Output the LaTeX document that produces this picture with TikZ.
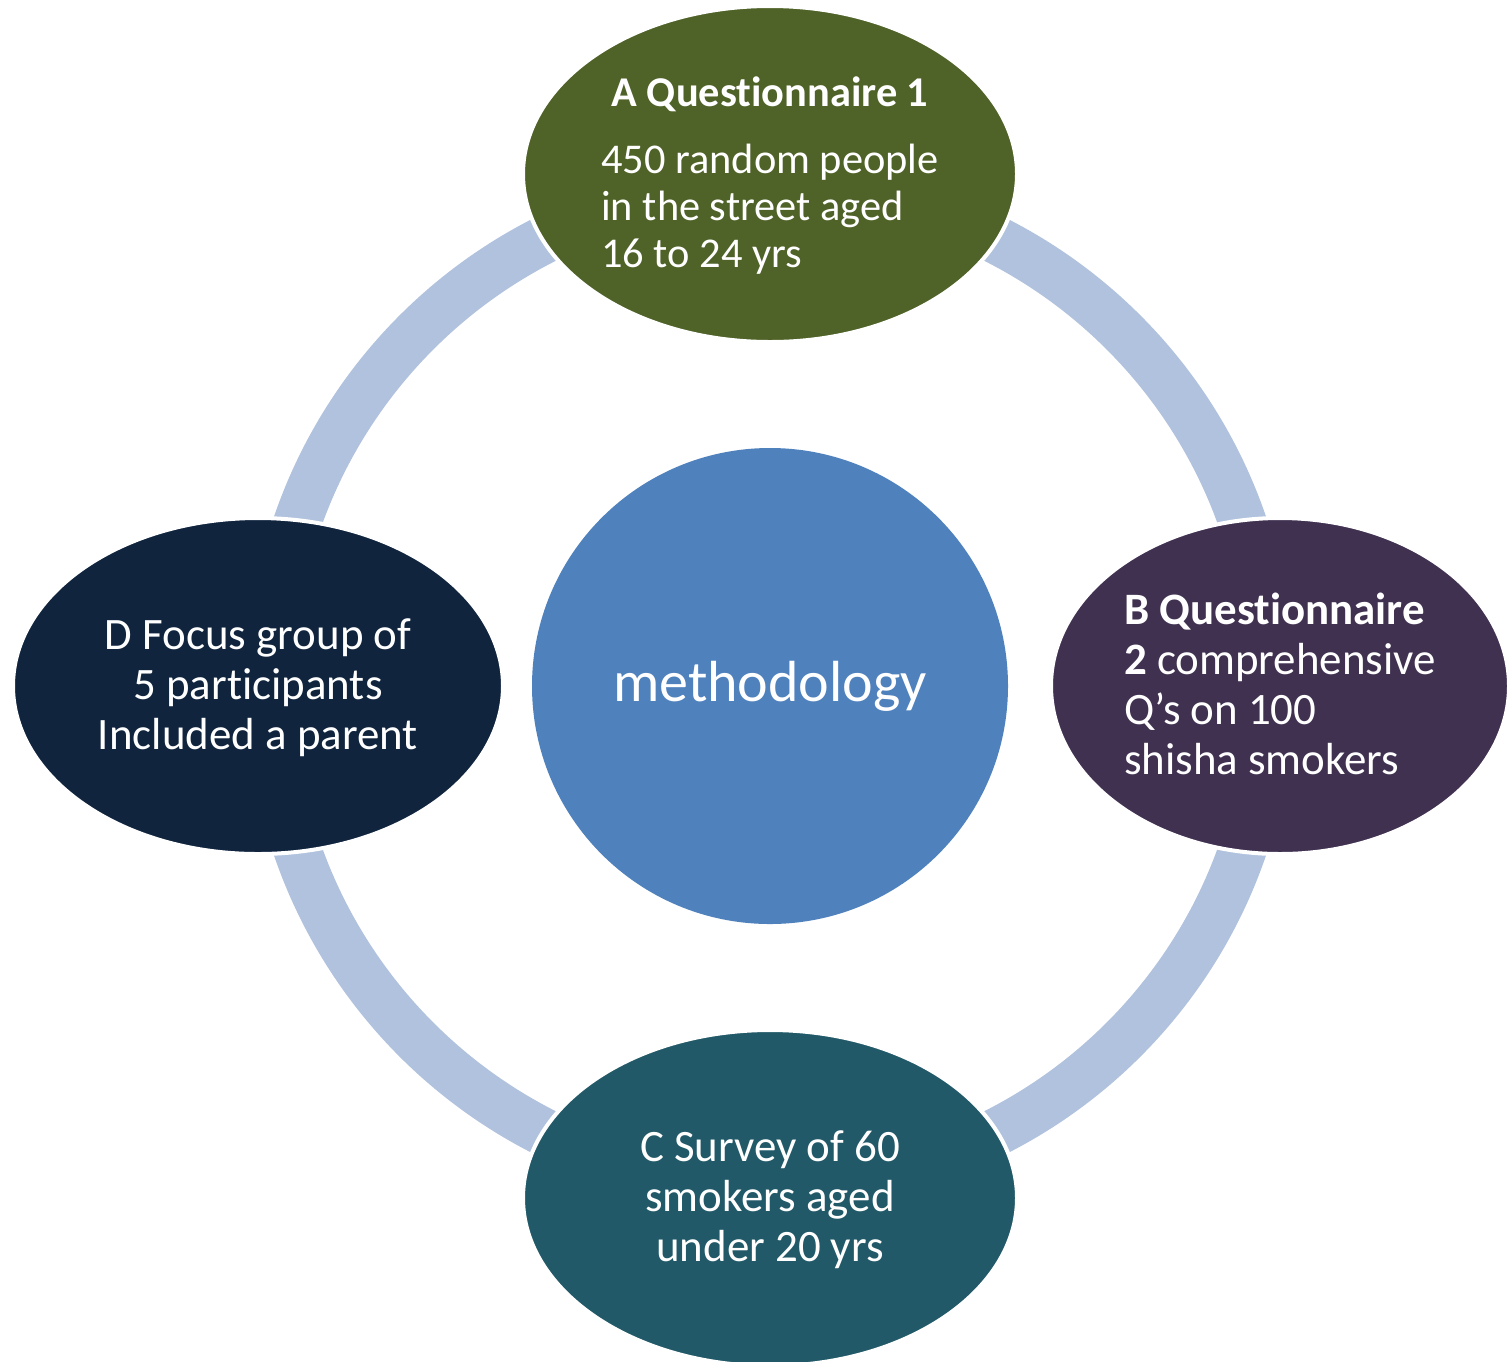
\documentclass[tikz,border=0pt]{standalone}
\usepackage{fontspec}
\setmainfont{Carlito}[Ligatures={NoCommon}]
\usetikzlibrary{shapes.geometric}

\definecolor{ringblue}{HTML}{B0C2DD}
\definecolor{hubblue}{HTML}{4F81BD}
\definecolor{olive}{HTML}{4F6228}
\definecolor{plum}{HTML}{403151}
\definecolor{teal}{HTML}{215968}
\definecolor{navy}{HTML}{10243E}

% taller first-row strut: sets the text block a little lower in its ellipse
\newcommand{\firstrow}[1]{\rule{0pt}{#1}}

\tikzset{
  stage/.style={ellipse, draw=white, line width=3pt, inner sep=0pt,
    minimum width=#1, minimum height=252pt, text=white,
    font=\fontsize{33.7}{37.5}\selectfont},
  stage/.default=370.5pt,
  hubnode/.style={circle, fill=hubblue, inner sep=0pt, minimum size=357pt,
    text=white, font=\fontsize{43.5}{52}\selectfont},
  ring/.style={draw=ringblue, line width=36pt}
}

\begin{document}
\begin{tikzpicture}[x=0.75pt, y=-0.75pt]
  \useasboundingbox (0,0) rectangle (1509,1361);
  \clip (0,0) rectangle (1509,1361);

  % centre of the cycle and the connecting ring
  \coordinate (c) at (770,686);
  \draw[ring] (c) circle[radius=500];

  % central topic
  \node[hubnode] (hub) at (c) {methodology};

  % the four methods round the ring
  \node[stage, fill=olive, font=\fontsize{31.8}{35.25}\selectfont] (A) at (770,174)
    {\begin{tabular}{@{}l@{}}
       \multicolumn{1}{@{}c@{}}{\firstrow{30.7pt}\textbf{A Questionnaire 1}}\\[15pt]
       450 random people\\
       in the street aged\\
       16 to 24 yrs
     \end{tabular}};

  \node[stage=343.5pt, fill=plum] (B) at (1280,686)
    {\begin{tabular}{@{}l@{}}
       \firstrow{32.2pt}\textbf{B Questionnaire}\\
       \textbf{2} comprehensive\\
       Q’s on 100\\
       shisha smokers
     \end{tabular}};

  \node[stage, fill=teal] (C) at (770,1198)
    {\begin{tabular}{@{}c@{}}
       \firstrow{32.2pt}C Survey of 60\\
       smokers aged\\
       under 20 yrs
     \end{tabular}};

  \node[stage=367.5pt, fill=navy] (D) at (258,686)
    {\begin{tabular}{@{}c@{}}
       \firstrow{32.2pt}D Focus group of\\
       5 participants\\
       Included a parent
     \end{tabular}};
\end{tikzpicture}
\end{document}
